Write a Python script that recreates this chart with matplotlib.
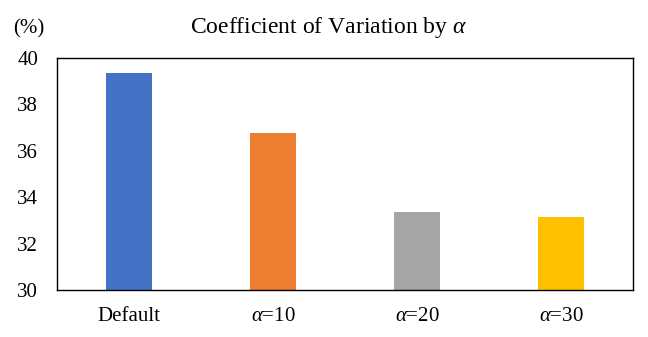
import matplotlib
matplotlib.use("Agg")
import matplotlib.pyplot as plt

categories = [r"Default", r"$\alpha$=10", r"$\alpha$=20", r"$\alpha$=30"]
values = [39.35, 36.77, 33.38, 33.15]
colors = ["#4472C4", "#ED7D31", "#A5A5A5", "#FFC000"]
yticks = [30, 32, 34, 36, 38, 40]

plt.rcParams['font.family'] = ['Liberation Serif', 'DejaVu Serif']
plt.rcParams['mathtext.fontset'] = 'custom'
plt.rcParams['mathtext.rm'] = 'Liberation Serif'
plt.rcParams['mathtext.it'] = 'Liberation Serif:italic'

W, H = 648, 337
fig = plt.figure(figsize=(W / 100, H / 100), dpi=100)
ax = fig.add_axes([57 / W, 1 - 290 / H, (633 - 57) / W, (290 - 58) / H])
x = list(range(len(categories)))
ax.bar(x, values, width=0.32, color=colors, bottom=0)
ax.set_ylim(30, 40)
ax.set_xlim(-0.5, 3.5)
ax.set_yticks(yticks)
ax.set_xticks(x)
ax.set_xticklabels(categories, fontsize=15)
ax.tick_params(axis='y', labelsize=15, length=0, pad=13.5)
ax.tick_params(axis='x', length=0, pad=12)
for s in ax.spines.values():
    s.set_linewidth(1.0)
    s.set_color('black')
fig.text(328.5 / W, 1 - 33 / H, r"Coefficient of Variation by $\alpha$",
         ha='center', va='baseline', fontsize=17)
fig.text(13 / W, 1 - 33 / H, "(%)", ha='left', va='baseline', fontsize=15)
fig.savefig("out.png", dpi=100)
